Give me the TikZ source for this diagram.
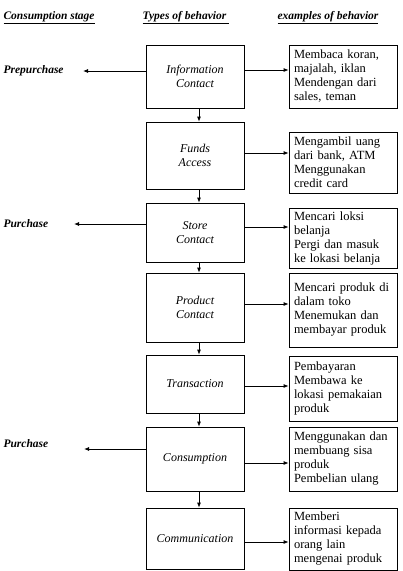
\documentclass[tikz,border=0pt]{standalone}
\usepackage{fontspec}
\setmainfont{Liberation Serif}
\usetikzlibrary{arrows.meta}

\begin{document}
\begin{tikzpicture}[x=1pt,y=-1pt,font=\fontsize{12.5}{14}\selectfont,
    arr/.style={-{Latex[length=5pt,width=4pt]}, thick},
    behav/.style={draw, thick, minimum width=98pt, align=center, font=\fontsize{12}{14}\selectfont\itshape},
    example/.style={draw, thick, minimum width=108pt, text width=98pt, inner xsep=5pt, align=left},
    stage/.style={anchor=west, font=\fontsize{11.5}{14}\selectfont\bfseries\itshape},
    head/.style={anchor=west, font=\fontsize{11.5}{14}\selectfont\bfseries\itshape}]
    \useasboundingbox (0,0) rectangle (403,571);
    % column headings
    \node[head] (h1) at (0,18) {\underline{Consumption stage}};
    \node[head] (h2) at (139,18) {\underline{Types of behavior\ }};
    \node[head] (h3) at (274,18) {\underline{examples of behavior}};
    % types of behavior
    \node[behav, minimum height=63pt] (info) at (195,76.5) {Information\\Contact};
    \node[behav, minimum height=67pt] (funds) at (195,155.5) {Funds\\Access};
    \node[behav, minimum height=59pt] (store) at (195,232.5) {Store\\Contact};
    \node[behav, minimum height=69pt] (product) at (195,307.5) {Product\\Contact};
    \node[behav, minimum height=58pt] (trans) at (195,384) {Transaction};
    \node[behav, minimum height=64pt] (consum) at (195,459) {Consumption};
    \node[behav, minimum height=61pt] (comm) at (195,538.5) {Communication};
    % examples of behavior
    \node[example, minimum height=63pt] (ex1) at (343,76.5) {Membaca koran,\\majalah, iklan\\Mendengan dari\\sales, teman};
    \node[example, minimum height=61pt] (ex2) at (343,162.5) {Mengambil uang\\dari bank, ATM\\Menggunakan\\credit card};
    \node[example, minimum height=53pt] (ex3) at (343,238.5) {Mencari loksi\\belanja\\Pergi dan masuk\\ke lokasi belanja};
    \node[example, minimum height=74pt] (ex4) at (343,310) {Mencari produk di\\dalam toko\\Menemukan dan\\membayar produk};
    \node[example, minimum height=65pt] (ex5) at (343,388.5) {Pembayaran\\Membawa ke\\lokasi pemakaian\\produk};
    \node[example, minimum height=64pt] (ex6) at (343,459) {Menggunakan dan\\membuang sisa\\produk\\Pembelian ulang};
    \node[example, minimum height=62pt] (ex7) at (343,539) {Memberi\\informasi kepada\\orang lain\\mengenai produk};
    % consumption stages
    \node[stage] (pre) at (0,71) {Prepurchase};
    \node[stage] (pur1) at (0,224) {Purchase};
    \node[stage] (pur2) at (0,444) {Purchase};
    \coordinate (preend) at (83,71);
    \coordinate (pur1end) at (74,224);
    \coordinate (pur2end) at (84,449);
    \draw[arr] (info.west |- preend) -- (preend);
    \draw[arr] (store.west |- pur1end) -- (pur1end);
    \draw[arr] (consum.west |- pur2end) -- (pur2end);
    % flow down
    \draw[arr] ([xshift=4]info.south) -- ([xshift=4]funds.north);
    \draw[arr] ([xshift=4]funds.south) -- ([xshift=4]store.north);
    \draw[arr] ([xshift=4]store.south) -- ([xshift=4]product.north);
    \draw[arr] ([xshift=4]product.south) -- ([xshift=4]trans.north);
    \draw[arr] ([xshift=4]trans.south) -- ([xshift=4]consum.north);
    \draw[arr] ([xshift=4]consum.south) -- ([xshift=4]comm.north);
    % to examples
    \draw[arr] ([yshift=6.5]info.east) -- ([yshift=6.5]info.east -| ex1.west);
    \draw[arr] ([yshift=2.5]funds.east) -- ([yshift=2.5]funds.east -| ex2.west);
    \draw[arr] ([yshift=5.5]store.east) -- ([yshift=5.5]store.east -| ex3.west);
    \draw[arr] ([yshift=3.5]product.east) -- ([yshift=3.5]product.east -| ex4.west);
    \draw[arr] ([yshift=-2]trans.east) -- ([yshift=-2]trans.east -| ex5.west);
    \draw[arr] ([yshift=-4]consum.east) -- ([yshift=-4]consum.east -| ex6.west);
    \draw[arr] ([yshift=-3.5]comm.east) -- ([yshift=-3.5]comm.east -| ex7.west);
\end{tikzpicture}
\end{document}
